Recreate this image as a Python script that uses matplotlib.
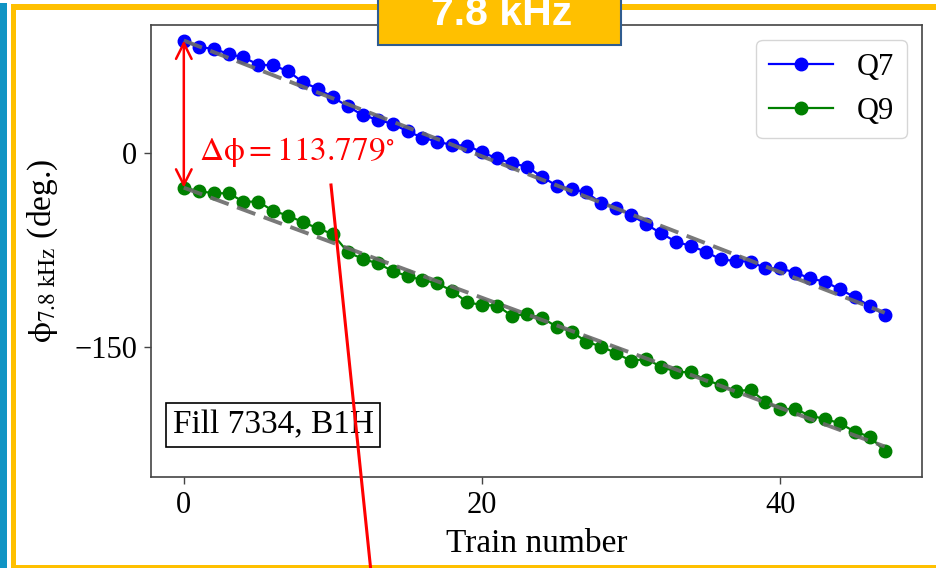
#!/usr/bin/env python3
"""7.8 kHz phase vs. train number for Q7 / Q9 pickups (fill 7334, B1H)."""

import matplotlib

matplotlib.use("Agg")
import matplotlib.pyplot as plt
import numpy as np
from matplotlib.lines import Line2D
from matplotlib.patches import Rectangle

plt.rcParams["font.family"] = "serif"
plt.rcParams["font.serif"] = ["Liberation Serif", "DejaVu Serif"]
plt.rcParams["mathtext.fontset"] = "stix"

# phase per train, degrees
trains = np.arange(48)
q7_phase = [
    87.2, 82.0, 80.9, 76.8, 74.2, 68.5, 68.0, 63.4, 54.9, 49.9, 43.3, 36.3,
    29.4, 26.0, 22.7, 17.0, 12.1, 9.0, 6.4, 5.9, 0.8, -3.9, -7.7, -10.3,
    -18.1, -25.0, -27.6, -30.2, -38.7, -42.1, -47.7, -54.8, -61.9, -68.3, -71.7, -76.1,
    -82.0, -83.3, -83.8, -88.9, -88.9, -92.3, -96.7, -99.3, -105.2, -111.3, -118.1, -125.0,
]
q9_phase = [
    -26.579, -29.2, -30.9, -30.9, -37.4, -37.4, -44.6, -48.2, -53.4, -58.0, -62.6, -76.5,
    -81.7, -85.1, -91.0, -95.0, -98.0, -100.5, -106.5, -115.2, -117.3, -117.8, -125.6, -124.5,
    -127.1, -134.1, -137.9, -145.7, -149.5, -154.6, -160.6, -159.0, -165.0, -168.9, -169.4, -175.3,
    -179.2, -183.8, -183.0, -192.1, -197.7, -197.7, -202.9, -205.4, -208.8, -215.3, -219.1, -230.2,
]
series = [("Q7", q7_phase, "blue"), ("Q9", q9_phase, "green")]
fill_label = "Fill 7334, B1H"
panel_title = "7.8 kHz"

W, H = 936, 568


def px_rect(x0, y0, x1, y1):
    """Pixel box (top-left origin) -> figure-fraction (x, y, w, h)."""
    return x0 / W, 1 - y1 / H, (x1 - x0) / W, (y1 - y0) / H


def anchored_slope(x, y):
    # least-squares slope for a line forced through the first point
    x = np.asarray(x, float)
    y = np.asarray(y, float)
    dx = x - x[0]
    return np.sum(dx * (y - y[0])) / np.sum(dx * dx)


fig = plt.figure(figsize=(W / 100, H / 100), dpi=100)
fig.patch.set_facecolor("white")

ax = fig.add_axes(px_rect(151, 25, 922, 477))
for name, phase, color in series:
    ax.plot(trains, phase, "-o", color=color, lw=1.6, ms=9, label=name, zorder=3)
for name, phase, color in series:
    slope = anchored_slope(trains, phase)
    fit = phase[0] + slope * (trains - trains[0])
    ax.plot(trains, fit, ls="--", color="#6a6a6a", lw=2.8, dashes=(5, 2.3), alpha=0.9, zorder=4)

dphi = q7_phase[0] - q9_phase[0]
ax.annotate(
    "", xy=(trains[0], q9_phase[0]), xytext=(trains[0], q7_phase[0]),
    arrowprops=dict(arrowstyle="<->", color="red", lw=1.8, mutation_scale=28, shrinkA=0, shrinkB=0),
    zorder=5,
)
ax.text(1.0, 1.0, rf"$\mathrm{{\Delta\phi}} = {dphi:.3f}^{{\circ}}$", color="red",
        fontsize=24, ha="left", va="center", zorder=6)

ax.text(0.028, 0.081, fill_label, transform=ax.transAxes, fontsize=24, ha="left", va="bottom",
        bbox=dict(boxstyle="square,pad=0.2", fc="white", ec="black", lw=1.2))

ax.set_xlim(-2.2, 49.5)
ax.set_ylim(-250.3, 99.2)
ax.set_xticks([0, 20, 40])
ax.set_yticks([-150, 0])
ax.tick_params(labelsize=22, length=5, width=1.0, color="#444444", pad=5)
for spine in ax.spines.values():
    spine.set_color("#444444")
    spine.set_linewidth(1.2)
ax.set_xlabel("Train number", fontsize=24, labelpad=6)
ax.set_ylabel(r"$\mathrm{\phi}_{7.8\ \mathrm{kHz}}$ (deg.)", fontsize=24, labelpad=10)
ax.legend(loc="upper right", fontsize=22, handlelength=2.1, borderaxespad=0.5)

# slide frame around the plot
r = px_rect(0, 3, 6.5, 568)
fig.add_artist(Rectangle(r[:2], *r[2:], transform=fig.transFigure, fc="#0F94C4", ec="none", zorder=1))
yellow = "#FFC000"
for box in [(11, 4, 15.5, 568), (11, 4, 936, 9.5), (11, 565, 936, 568)]:
    r = px_rect(*box)
    fig.add_artist(Rectangle(r[:2], *r[2:], transform=fig.transFigure, fc=yellow, ec="none", zorder=1))

r = px_rect(378, -6, 621, 45)
fig.add_artist(Rectangle(r[:2], *r[2:], transform=fig.transFigure, fc=yellow, ec="#2F5C8F",
                         lw=1.5, zorder=10))
fig.text(501.5 / W, 1 - 25 / H, panel_title, color="white", fontsize=29.5, fontweight="bold",
         family="Liberation Sans", ha="center", va="baseline", zorder=11)

# pointer from the annotation down out of the panel
fig.add_artist(Line2D([331 / W, 371 / W], [1 - 185 / H, 1 - 572 / H], transform=fig.transFigure,
                      color="red", lw=2.2, zorder=12))

fig.savefig("out.png", dpi=100)
